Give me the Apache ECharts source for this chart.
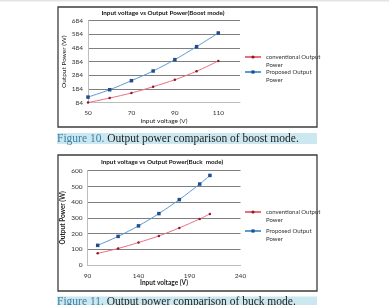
<!DOCTYPE html>
<html>
<head>
<meta charset="UTF-8" />
<title>Output power comparison</title>
<style>
  html, body { margin: 0; padding: 0; background: #fff; }
  #chart { width: 389px; height: 305px; }
</style>
</head>
<body>
<div id="chart"></div>
<script src="https://cdn.jsdelivr.net/npm/echarts@6/dist/echarts.min.js"></script>
<script>
// boost mode (figure 10)
const boostVoltage = [50, 60, 70, 80, 90, 100, 110];
const boostConventional = [85, 118, 155, 201, 252, 314, 389];
const boostProposed = [125, 179, 245, 316, 399, 494, 594];
const boostTicks = [84, 184, 284, 384, 484, 584, 684];

// buck mode (figure 11)
const buckVoltage = [100, 120, 140, 160, 180, 200, 210];
const buckConventional = [74, 105, 143, 185, 236, 293, 325];
const buckProposed = [125, 182, 249, 327, 416, 515, 570];

const seriesNames = ['conventional Output Power', 'Proposed Output Power'];
const redLine = '#e8707e', redDot = '#8b1a2a';
const blueLine = '#5b9bd5', blueDot = '#1f4e8c';
const font = 'Lato, "Open Sans", sans-serif';

const pairs = (xs, ys) => xs.map((x, i) => [x, ys[i]]);

function xAxisOf(gi, min, max, step, bold) {
  return {
    type: 'value', gridIndex: gi, min: min, max: max, interval: step,
    name: 'Input voltage (V)', nameLocation: 'middle', nameGap: 14,
    nameTextStyle: { fontFamily: font, fontSize: 6.5, color: '#222', fontWeight: bold ? 'bold' : 'normal' },
    axisLine: { lineStyle: { color: '#bdbdbd', width: 1 } },
    axisTick: { show: false },
    splitLine: { show: false },
    axisLabel: { fontFamily: font, fontSize: 6.5, color: '#333', margin: 7, showMaxLabel: max % step === min % step }
  };
}

function yAxisOf(gi, min, max, step, bold) {
  return {
    type: 'value', gridIndex: gi, min: min, max: max, interval: step,
    name: 'Output Power (W)', nameLocation: 'middle', nameGap: 21,
    nameTextStyle: { fontFamily: font, fontSize: 6.5, color: '#222', fontWeight: bold ? 'bold' : 'normal' },
    axisLine: { show: true, lineStyle: { color: '#bdbdbd', width: 1 } },
    axisTick: { show: false },
    splitLine: { lineStyle: { color: '#7f7f7f', width: 1 } },
    axisLabel: { fontFamily: font, fontSize: 6.5, color: '#333', margin: 5 }
  };
}

function lineSeries(name, gi, data, line, dot, symbol, size) {
  return {
    name: name, type: 'line', xAxisIndex: gi, yAxisIndex: gi,
    data: data, smooth: 0.3,
    symbol: symbol, symbolSize: size,
    lineStyle: { color: line, width: 1 },
    itemStyle: { color: dot },
    emphasis: { disabled: true }
  };
}

// empty first line so the icon sits beside the first text line
function legendAt(name, top) {
  return {
    data: [name], left: 244, top: top, padding: 0,
    itemWidth: 16, itemHeight: 4,
    formatter: n => ' \n' + n.replace(' Power', '\nPower'),
    textStyle: { fontFamily: font, fontSize: 6, color: '#333', lineHeight: 8 }
  };
}

function caption(y, num, rest) {
  return [
    { type: 'rect', shape: { x: 57, y: y - 5.5, width: 260, height: 11 }, style: { fill: '#cbe7ef' } },
    {
      type: 'text', x: 57, y: y,
      style: {
        text: '{a|Figure ' + num + '.} ' + rest,
        verticalAlign: 'middle',
        font: '11.5px "Liberation Serif", serif', fill: '#222',
        rich: { a: { fill: '#3a7fa8', font: '11.5px "Liberation Serif", serif' } }
      }
    }
  ];
}

const chart = echarts.init(document.getElementById('chart'), null, { renderer: 'canvas' });
chart.setOption({
  animation: false,
  backgroundColor: '#fff',
  grid: [
    { left: 88, top: 20.7, width: 152, height: 82 },
    { left: 87.5, top: 170.7, width: 153, height: 94.3 }
  ],
  xAxis: [xAxisOf(0, 50, 120, 20, false), xAxisOf(1, 90, 240, 50, true)],
  yAxis: [yAxisOf(0, boostTicks[0], boostTicks[boostTicks.length - 1], 100, false), yAxisOf(1, 0, 600, 100, true)],
  legend: [
    legendAt(seriesNames[0], 45), legendAt(seriesNames[1], 60),
    legendAt(seriesNames[0], 200), legendAt(seriesNames[1], 219)
  ],
  series: [
    lineSeries(seriesNames[0], 0, pairs(boostVoltage, boostConventional), redLine, redDot, 'circle', 2.5),
    lineSeries(seriesNames[1], 0, pairs(boostVoltage, boostProposed), blueLine, blueDot, 'rect', 3.5),
    lineSeries(seriesNames[0], 1, pairs(buckVoltage, buckConventional), redLine, redDot, 'circle', 2.5),
    lineSeries(seriesNames[1], 1, pairs(buckVoltage, buckProposed), blueLine, blueDot, 'rect', 3.5)
  ],
  graphic: [
    { type: 'rect', shape: { x: 0, y: 0, width: 389, height: 1.5 }, style: { fill: '#e4e4e4' } },
    { type: 'rect', shape: { x: 58, y: 7, width: 259, height: 120 }, style: { fill: 'none', stroke: '#3c3c3c', lineWidth: 1.3 } },
    { type: 'rect', shape: { x: 58, y: 155, width: 259, height: 136 }, style: { fill: 'none', stroke: '#3c3c3c', lineWidth: 1.3 } },
    { type: 'text', x: 163, y: 12.5, style: { text: 'Input voltage vs Output Power(Boost mode)', align: 'center', verticalAlign: 'middle', font: 'bold 6.3px ' + font, fill: '#111' } },
    { type: 'text', x: 162, y: 161.7, style: { text: 'Input voltage vs Output Power(Buck  mode)', align: 'center', verticalAlign: 'middle', font: 'bold 6.3px ' + font, fill: '#111' } }
  ].concat(
    caption(138.5, 10, 'Output power comparison of boost mode.'),
    caption(302, 11, 'Output power comparison of buck mode.')
  )
});
</script>
</body>
</html>
